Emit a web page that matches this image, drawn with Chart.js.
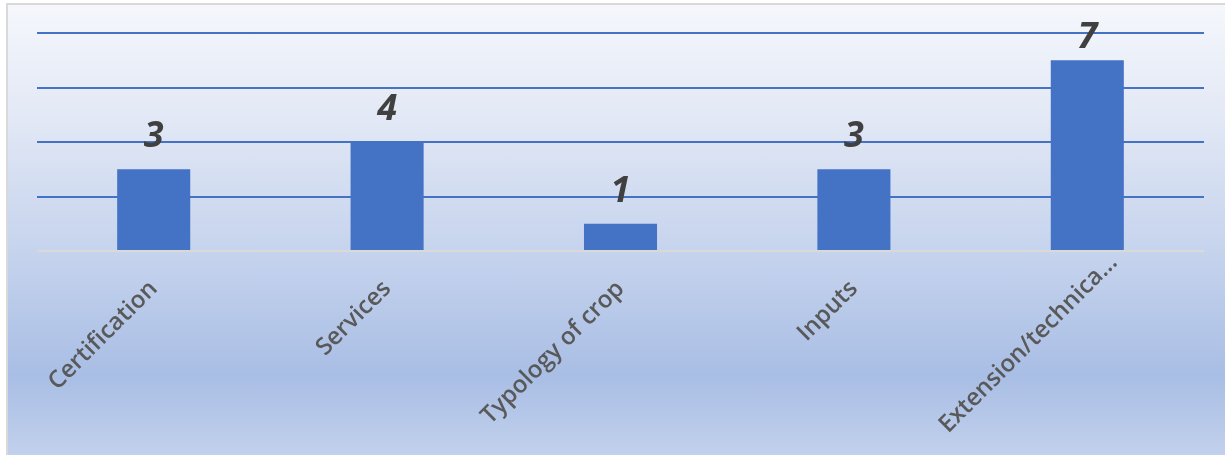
<!DOCTYPE html>
<html>
<head>
<meta charset="utf-8">
<script src="https://cdn.jsdelivr.net/npm/chart.js@4.4.1/dist/chart.umd.min.js"></script>
<style>
  html, body { margin: 0; padding: 0; background: #ffffff; }
  #frame {
    position: absolute; left: 6px; top: 3px; width: 1219px; height: 452px;
    border-left: 2px solid #d9d9d9; border-top: 2px solid #d9d9d9;
    background: linear-gradient(to bottom, #f5f7fc 0%, #e2e8f5 25%, #c5d3ed 55%, #a9bee5 82%, #c2d1ec 100%);
  }
  #wrap { position: absolute; left: 0; top: 0; width: 1225px; height: 455px; }
</style>
</head>
<body>
<div id="frame"></div>
<div id="wrap"><canvas id="chart"></canvas></div>
<script>
// Categorías y valores
const categories = ['Certification', 'Services', 'Typology of crop', 'Inputs', 'Extension/technica...'];
const counts = [3, 4, 1, 3, 7];

const BAR_BLUE = '#4472c4';

// Etiquetas de valor encima de cada barra
const valueLabels = {
    id: 'valueLabels',
    afterDatasetsDraw(chart) {
        const ctx = chart.ctx;
        const meta = chart.getDatasetMeta(0);
        ctx.save();
        ctx.font = 'italic bold 36px "Open Sans", "Liberation Sans", sans-serif';
        ctx.fillStyle = '#404040';
        ctx.textAlign = 'center';
        ctx.textBaseline = 'alphabetic';
        meta.data.forEach((bar, i) => {
            // no dejar que el texto se salga por arriba
            const y = Math.max(bar.y - 22, 48);
            ctx.fillText(String(counts[i]), bar.x, y);
        });
        ctx.restore();
    }
};

// Etiquetas del eje X giradas 45°, desplazadas hacia arriba si no caben abajo
const categoryLabels = {
    id: 'categoryLabels',
    afterDraw(chart) {
        const ctx = chart.ctx;
        const xScale = chart.scales.x;
        const base = chart.chartArea.bottom;
        const maxY = 437;
        const k = Math.SQRT1_2;
        ctx.save();
        ctx.font = '600 24px "Open Sans", sans-serif';
        ctx.fillStyle = '#595959';
        ctx.textAlign = 'right';
        ctx.textBaseline = 'middle';
        categories.forEach((label, i) => {
            let ax = xScale.getPixelForTick(i);
            let ay = base + 34;
            const w = ctx.measureText(label).width;
            const lowest = ay + w * k + 8;
            if (lowest > maxY) {
                const s = lowest - maxY;
                ax += s;
                ay -= s;
            }
            ctx.save();
            ctx.translate(ax, ay);
            ctx.rotate(-Math.PI / 4);
            ctx.fillText(label, 0, 0);
            ctx.restore();
        });
        ctx.restore();
    }
};

const ctx = document.getElementById('chart').getContext('2d');
new Chart(ctx, {
    type: 'bar',
    data: {
        labels: categories,
        datasets: [{
            data: counts,
            backgroundColor: BAR_BLUE,
            borderWidth: 0,
            categoryPercentage: 1,
            barPercentage: 0.313
        }]
    },
    options: {
        responsive: true,
        maintainAspectRatio: false,
        animation: false,
        layout: { padding: { left: 37, right: 21, top: 33, bottom: 0 } },
        plugins: {
            legend: { display: false },
            tooltip: { enabled: false }
        },
        scales: {
            x: {
                grid: { display: false },
                border: { display: false },
                ticks: { display: false },
                afterFit(scale) { scale.height = 204; }
            },
            y: {
                min: 0,
                max: 8,
                ticks: { display: false, stepSize: 2 },
                border: { display: false },
                grid: {
                    drawTicks: false,
                    lineWidth: 2,
                    color: c => c.tick && c.tick.value === 0 ? '#d9d9d9' : BAR_BLUE
                },
                afterFit(scale) { scale.width = 0; }
            }
        }
    },
    plugins: [valueLabels, categoryLabels]
});
</script>
</body>
</html>
